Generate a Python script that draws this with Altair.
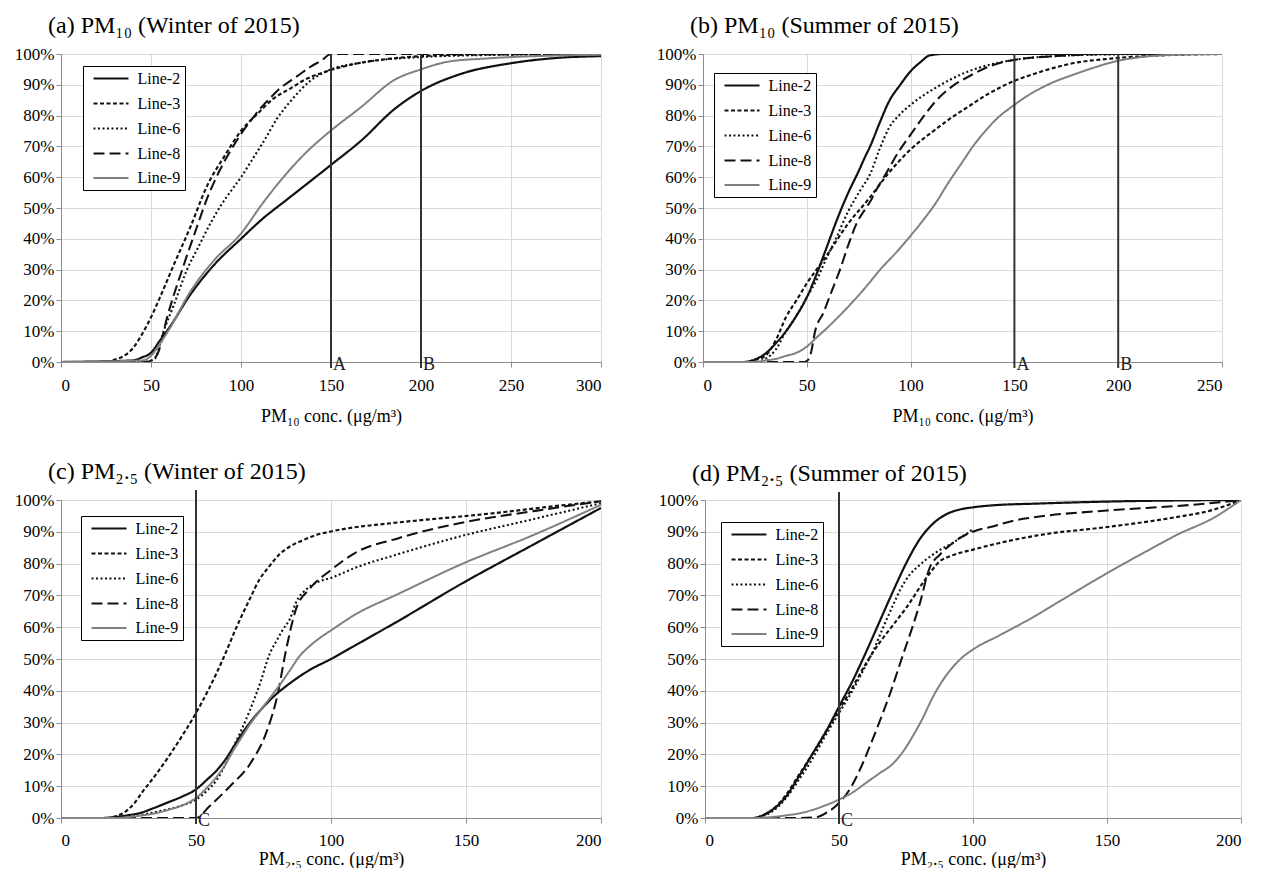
import altair as alt
import pandas as pd

SERIF = "Liberation Serif"
SERIES = ["Line-2", "Line-3", "Line-6", "Line-8", "Line-9"]
COLORS = ["#111111", "#111111", "#111111", "#111111", "#808080"]
DASHES = [[1, 0], [4, 2.5], [2, 2.5], [11, 5], [1, 0]]
WIDTHS = [2.2, 2.0, 2.3, 2.0, 1.6]

# ---------------- (a) PM10 winter ----------------
a2_x = [0, 40, 45, 50, 55, 60, 72, 85, 100, 112, 125, 137, 150, 167, 185, 200, 222, 250, 275, 300]
a2_y = [0, 0.5, 1.5, 3, 7, 11, 22, 31.5, 40, 46.5, 52.5, 58, 64, 72, 82, 88, 93.5, 97, 98.7, 99.3]
a3_x = [0, 25, 30, 35, 40, 45, 50, 55, 63, 72, 81, 91, 100, 109, 118, 128, 135, 150, 165, 180, 200, 230, 300]
a3_y = [0, 0, 0.8, 2, 4.5, 9, 14.5, 21, 32, 44, 57, 67, 75, 80.5, 85.5, 89, 91.5, 94.8, 97, 98.3, 99.3, 99.8, 100]
a6_x = [0, 45, 50, 52, 57, 63, 70, 76, 83, 89, 95, 100, 106, 113, 120, 128, 139, 150, 165, 180, 200, 230, 300]
a6_y = [0, 0, 0.5, 1, 10, 19, 30, 37, 45, 51, 56, 60, 65.5, 72, 79, 85, 91.5, 95, 97, 98.2, 99, 99.6, 100]
a8_x = [0, 48, 50, 53.7, 59, 68.5, 75, 81.5, 88, 94.4, 100, 105.6, 111, 116.7, 122, 128, 134, 139, 145, 150, 300]
a8_y = [0, 0, 0.5, 2.7, 14.6, 32, 43, 53.6, 62, 68.8, 74, 78.5, 82.5, 86, 89, 91.5, 94, 96, 98, 100, 100]
a9_x = [0, 45, 50, 55, 60, 72, 85, 100, 112, 125, 137, 148, 167, 185, 200, 215, 235, 250, 275, 300]
a9_y = [0, 0.5, 2, 6, 10.5, 23, 33, 41.7, 51.5, 61, 68.5, 74.2, 82.9, 91.5, 95, 97.5, 98.5, 99, 99.5, 99.8]

# ---------------- (b) PM10 summer ----------------
b2_x = [0, 20, 25, 30, 35, 40, 45, 50, 55, 60, 65, 70, 75, 78, 80.5, 85, 89.6, 95, 100, 105, 109, 115, 250]
b2_y = [0, 0, 0.8, 2.7, 6, 10, 15, 21, 29, 38, 47, 55, 62, 66.5, 70, 77.5, 84.6, 90, 94.4, 97.5, 99.5, 100, 100]
b3_x = [0, 20, 25, 30, 35, 40, 45, 50, 59, 70, 80.5, 89.6, 100, 112, 120, 128, 136, 149, 163, 176, 198, 219, 250]
b3_y = [0, 0, 0.7, 2, 7, 14.6, 20, 25.5, 34, 45, 53.5, 61.5, 69, 75.5, 79.5, 83, 86.5, 91, 94.3, 96.7, 98.6, 99.5, 100]
b6_x = [0, 25, 30, 35, 40, 45, 50, 55, 59, 64, 70, 76, 80.5, 85, 89.6, 95, 100, 106, 112, 120, 128, 138, 149, 175, 200, 250]
b6_y = [0, 0, 1, 4, 10, 15, 21, 27, 33, 40, 49, 56, 61, 69, 76, 80.5, 83.5, 86.5, 89, 92, 94.4, 96.5, 98, 99.5, 99.9, 100]
b8_x = [0, 48, 50, 52, 54, 58, 62, 66, 70, 74, 78, 80.5, 84, 88, 94, 100, 106, 112, 120, 128, 138, 149, 175, 200, 250]
b8_y = [0, 0, 0.3, 3, 10, 16, 23, 30, 38, 45, 49.5, 52, 56.5, 61, 68, 73.8, 79.5, 84.6, 89.5, 92.7, 96, 98, 99.5, 100, 100]
b9_x = [0, 25, 30, 35, 40, 45, 50, 54, 62, 70, 78, 86, 93, 100, 106, 112, 118, 125, 130, 136, 142, 149, 156, 163, 170, 176, 188, 198, 211, 225, 250]
b9_y = [0, 0, 0.5, 1, 2, 3, 5, 7.5, 12.5, 18, 24, 30.5, 35.5, 41, 46, 51.5, 58, 65, 70, 75, 79.3, 83, 86.3, 89, 91.2, 92.7, 95.5, 97.5, 99, 99.7, 100]

# ---------------- (c) PM2.5 winter ----------------
c2_x = [0, 15, 20, 25, 29, 34, 39, 45, 50, 54, 57.7, 61, 64, 67, 70, 74, 78.5, 85, 92, 100, 109, 125, 148, 175, 200]
c2_y = [0, 0, 0.3, 0.9, 1.5, 3, 4.7, 6.8, 9, 12, 15, 18.5, 22.5, 26.5, 30, 34, 38, 42.5, 46.5, 50, 54.3, 62, 73.5, 86, 97.5]
c3_x = [0, 15, 17, 20, 23, 27, 30, 35, 40, 45, 50, 55, 60, 65, 70, 73.5, 77, 81, 85, 90, 94.5, 100, 105.5, 120, 135, 148, 165, 180, 200]
c3_y = [0, 0, 0, 0.5, 1.5, 4.5, 8, 13.5, 19.5, 26, 33, 41, 50, 60, 69, 75, 79, 83, 85.5, 87.5, 89, 90.1, 91, 92.5, 93.8, 94.8, 96.3, 97.8, 99.6]
c6_x = [0, 20, 27, 33, 39, 45, 50, 54, 57.7, 61, 64, 67, 70, 74, 77, 80, 82, 85, 87, 91, 95, 100, 109, 125, 148, 175, 200]
c6_y = [0, 0, 0.5, 1.5, 2.6, 4, 5.8, 8.5, 12, 17, 22.6, 28, 34, 43, 51, 56, 59, 63, 67.7, 72, 74.2, 75.5, 78.7, 83, 88.6, 94, 99]
c8_x = [0, 48, 50, 55, 62.6, 70, 76, 80, 83.4, 87, 92, 100, 109, 125, 148, 175, 200]
c8_y = [0, 0, 0, 3.7, 10, 17, 26.8, 38, 53, 65.6, 72, 78, 83.4, 88, 92.8, 96.5, 99.6]
c9_x = [0, 20, 25, 30, 35, 40, 45, 50, 54, 57.7, 61, 64, 67, 70, 74, 78.5, 82, 85, 88, 92, 96, 100, 109, 125, 148, 175, 200]
c9_y = [0, 0, 0.3, 0.8, 1.5, 2.6, 4, 6.3, 9.5, 13, 17, 21.5, 25.5, 29.5, 34, 39, 43, 46.7, 50.5, 54, 56.7, 59, 64, 70.5, 79.7, 89, 98.5]

# ---------------- (d) PM2.5 summer ----------------
d2_x = [0, 18, 20, 23, 25, 30, 35, 40, 45, 50, 55, 60, 65, 70, 75, 80, 85, 90, 95, 100, 107, 125, 150, 200]
d2_y = [0, 0, 0.3, 1.5, 2.5, 6.5, 13, 20, 27, 35, 43, 52, 61.5, 71, 80, 87.5, 92.5, 95.5, 97, 97.7, 98.3, 98.9, 99.5, 100]
d3_x = [0, 18, 20, 25, 30, 35, 40, 45, 50, 55, 60, 65, 70, 75, 82.6, 87.6, 92, 100, 110, 125, 150, 175, 190, 200]
d3_y = [0, 0, 0.3, 2.5, 7, 13.5, 20, 27, 34, 41, 48.5, 55, 60.5, 66, 75.5, 80.7, 82.5, 84.4, 86.5, 89, 91.5, 94.5, 97, 100]
d6_x = [0, 18, 20, 25, 30, 35, 40, 45, 50, 55, 60, 62.7, 66, 70.2, 73, 76.4, 80, 85, 88, 92.5, 95, 98.7, 100]
d6_y = [0, 0, 0.3, 2, 6, 12, 18.5, 26, 33, 40, 48, 52.4, 59, 67, 72, 76.5, 79.5, 82.8, 84.5, 86.5, 88, 90, 91]
d8_x = [0, 25, 35, 41.6, 45, 50, 54, 57.7, 61, 65, 69, 73.9, 77, 80, 83.8, 87.6, 91, 95, 101.5, 107.4, 115, 124.8, 150, 182, 200]
d8_y = [0, 0, 0, 0.3, 1.5, 4.7, 9, 15, 21.5, 30, 39, 51.4, 59, 67, 78.6, 82.8, 85.5, 88, 90.5, 91.7, 93.5, 94.8, 96.7, 98.5, 100]
d9_x = [0, 18, 25, 30, 35.4, 40, 45, 50, 55, 60, 65, 70, 74, 77.5, 81, 85, 88.5, 92, 96, 100, 110, 120, 135, 150, 165, 176, 190, 200]
d9_y = [0, 0, 0.3, 0.8, 1.5, 2.5, 4, 5.8, 8, 11, 14, 17, 21, 25.7, 31, 38, 43, 47, 50.5, 53, 57.5, 62, 69.5, 77, 84, 89, 94.5, 100]

# reference lines
a_ref = [150, 200]
a_ref_lab = ["A", "B"]
b_ref = [150, 200]
b_ref_lab = ["A", "B"]
c_ref = [50]
c_ref_lab = ["C"]
d_ref = [50]
d_ref_lab = ["C"]

# horizontal line glyph for the legend (path units are scaled by sqrt(size)/2)
LEGEND_LINE = "M-2.5,0L2.5,0"


def frame(pairs):
    rows = []
    for name, xs, ys in pairs:
        for xv, yv in zip(xs, ys):
            rows.append({"series": name, "x": xv, "y": yv})
    return pd.DataFrame(rows)


def panel(pairs, xmax, width, height, title, title_offset, xtitle, refs, ref_labs,
          leg_x, leg_y, rule_top, label_pad, title_pad):
    df = frame(pairs)
    legend = alt.Legend(orient="none", legendX=leg_x, legendY=leg_y, title=None,
                        strokeColor="black", fillColor="white", padding=4,
                        labelFont=SERIF, labelFontSize=16, labelColor="black",
                        symbolType=LEGEND_LINE, symbolSize=196, symbolStrokeWidth=2.2,
                        symbolOffset=15.5, rowPadding=8, labelOffset=18)
    xscale = alt.Scale(domain=[0, xmax], nice=False)
    xaxis = alt.Axis(values=list(range(0, xmax + 1, 50)), title=xtitle,
                     labelFont=SERIF, labelFontSize=17,
                     labelPadding=label_pad, titlePadding=title_pad)
    lines = alt.Chart(df).mark_line(interpolate="monotone", clip=True).encode(
        x=alt.X("x:Q", scale=xscale, axis=xaxis),
        y=alt.Y("y:Q", scale=alt.Scale(domain=[0, 100], nice=False),
                axis=alt.Axis(values=list(range(0, 101, 10)), title=None,
                              labelFont=SERIF, labelFontSize=17,
                              labelExpr="datum.value + '%'", labelPadding=2)),
        color=alt.Color("series:N", scale=alt.Scale(domain=SERIES, range=COLORS), legend=legend),
        strokeDash=alt.StrokeDash("series:N", scale=alt.Scale(domain=SERIES, range=DASHES), legend=legend),
        strokeWidth=alt.StrokeWidth("series:N", scale=alt.Scale(domain=SERIES, range=WIDTHS), legend=None),
    )
    rdf = pd.DataFrame({"x": refs, "lab": ref_labs})
    rules = alt.Chart(rdf).mark_rule(color="#333333", strokeWidth=2).encode(
        x=alt.X("x:Q", scale=xscale), y=alt.value(rule_top), y2=alt.value(height + 6))
    labels = alt.Chart(rdf).mark_text(align="left", baseline="middle", dx=2, dy=3,
                                      font=SERIF, fontSize=18, color="#222222").encode(
        x=alt.X("x:Q", scale=xscale), y=alt.value(height), text="lab:N")
    return alt.layer(lines, rules, labels).properties(
        width=width, height=height,
        title=alt.TitleParams(title, anchor="start", frame="group", offset=title_offset, dx=-13,
                              font=SERIF, fontSize=24, fontWeight="normal", color="black"))


pa = panel([("Line-2", a2_x, a2_y), ("Line-3", a3_x, a3_y), ("Line-6", a6_x, a6_y),
            ("Line-8", a8_x, a8_y), ("Line-9", a9_x, a9_y)],
           300, 540, 308, "(a) PM\u2081\u2080 (Winter of 2015)", 7,
           "PM\u2081\u2080 conc. (\u03bcg/m\u00b3)", a_ref, a_ref_lab, 22, 12, 0, 10, 14)
pb = panel([("Line-2", b2_x, b2_y), ("Line-3", b3_x, b3_y), ("Line-6", b6_x, b6_y),
            ("Line-8", b8_x, b8_y), ("Line-9", b9_x, b9_y)],
           250, 519, 308, "(b) PM\u2081\u2080 (Summer of 2015)", 7,
           "PM\u2081\u2080 conc. (\u03bcg/m\u00b3)", b_ref, b_ref_lab, 11, 19, 0, 10, 14)
pc = panel([("Line-2", c2_x, c2_y), ("Line-3", c3_x, c3_y), ("Line-6", c6_x, c6_y),
            ("Line-8", c8_x, c8_y), ("Line-9", c9_x, c9_y)],
           200, 540, 318, "(c) PM\u2082.\u2085 (Winter of 2015)", 5,
           "PM\u2082.\u2085 conc. (\u03bcg/m\u00b3)", c_ref, c_ref_lab, 20, 16, -10, 9, 2)
pd_ = panel([("Line-2", d2_x, d2_y), ("Line-3", d3_x, d3_y), ("Line-6", d6_x, d6_y),
             ("Line-8", d8_x, d8_y), ("Line-9", d9_x, d9_y)],
            200, 536, 318, "(d) PM\u2082.\u2085 (Summer of 2015)", 5,
            "PM\u2082.\u2085 conc. (\u03bcg/m\u00b3)", d_ref, d_ref_lab, 16, 22, -8, 9, 2)

RES = dict(x="independent", y="independent", color="independent",
           strokeDash="independent", strokeWidth="independent")

row1 = alt.hconcat(pa, pb, spacing=54).resolve_scale(**RES).resolve_legend(
    color="independent", strokeDash="independent")
row2 = alt.hconcat(pc, pd_, spacing=56).resolve_scale(**RES).resolve_legend(
    color="independent", strokeDash="independent")

chart = alt.vconcat(row1, row2, spacing=35).resolve_scale(**RES).resolve_legend(
    color="independent", strokeDash="independent").properties(
    padding={"left": 6, "top": 6, "right": 0, "bottom": 0}
).configure(font=SERIF).configure_axis(
    labelFont=SERIF, labelFontSize=17, labelColor="black",
    titleFont=SERIF, titleFontSize=18, titleFontWeight="normal", titleColor="black",
    domainColor="#8c8c8c", tickColor="#8c8c8c", gridColor="#d9d9d9", tickSize=5
).configure_view(stroke=None)

chart.save("out.html", embed_options={"renderer": "svg", "actions": False})
